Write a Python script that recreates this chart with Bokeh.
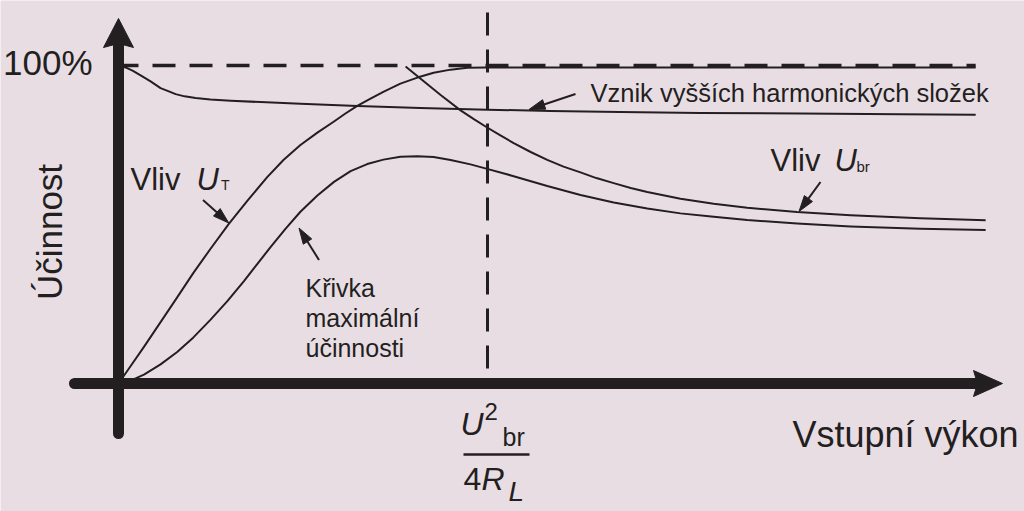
import math
from bokeh.plotting import figure
from bokeh.models import Range1d, Label
from bokeh.embed import file_html
from bokeh.resources import INLINE

# ---------------- data (x: input power relative to U_br^2/(4 R_L), y: efficiency, 1 = 100 %) -------------
harm_x = [0.003, 0.019, 0.038, 0.060, 0.087, 0.114, 0.133, 0.155, 0.179, 0.209, 0.249, 0.304,
          0.385, 0.493, 0.648, 0.818, 1.000, 1.171, 1.360, 1.577, 1.848, 2.119, 2.323]
harm_y = [0.998, 0.994, 0.984, 0.969, 0.950, 0.929, 0.920, 0.910, 0.903, 0.898, 0.893, 0.889,
          0.885, 0.880, 0.873, 0.866, 0.861, 0.857, 0.854, 0.851, 0.849, 0.847, 0.845]

ut_x = [0.000, 0.033, 0.069, 0.114, 0.159, 0.203, 0.249, 0.299, 0.349, 0.403, 0.447, 0.493,
        0.539, 0.584, 0.615, 0.647, 0.683, 0.719, 0.764, 0.810, 0.854, 0.900, 0.945, 0.995,
        1.198, 1.577, 1.984, 2.323]
ut_y = [0.000, 0.055, 0.115, 0.193, 0.271, 0.348, 0.423, 0.502, 0.574, 0.649, 0.703, 0.750,
        0.789, 0.824, 0.849, 0.873, 0.896, 0.918, 0.943, 0.962, 0.977, 0.987, 0.993, 0.994,
        0.994, 0.994, 0.994, 0.994]

max_x = [0.000, 0.033, 0.069, 0.114, 0.159, 0.203, 0.249, 0.295, 0.340, 0.377, 0.412, 0.453,
         0.493, 0.539, 0.584, 0.629, 0.674, 0.718, 0.764, 0.810, 0.854, 0.900, 0.954, 0.999,
         1.071, 1.162, 1.252, 1.342, 1.433, 1.523, 1.613, 1.704, 1.839, 1.984, 2.173, 2.350]
max_y = [0.000, 0.009, 0.028, 0.060, 0.099, 0.145, 0.200, 0.259, 0.322, 0.377, 0.429, 0.487,
         0.540, 0.591, 0.634, 0.668, 0.690, 0.704, 0.713, 0.715, 0.712, 0.703, 0.689, 0.675,
         0.652, 0.621, 0.593, 0.569, 0.550, 0.535, 0.524, 0.514, 0.503, 0.494, 0.487, 0.483]

ubr_x = [0.778, 0.818, 0.873, 0.927, 0.962, 0.999, 1.035, 1.071, 1.117, 1.162, 1.206, 1.252,
         1.295, 1.342, 1.388, 1.433, 1.523, 1.613, 1.704, 1.839, 1.984, 2.173, 2.350]
ubr_y = [0.997, 0.959, 0.907, 0.859, 0.832, 0.805, 0.780, 0.756, 0.728, 0.703, 0.682, 0.664,
         0.646, 0.630, 0.615, 0.602, 0.581, 0.565, 0.553, 0.539, 0.529, 0.520, 0.513]

FULL = 1.0          # 100 % efficiency
P_OPT = 1.0         # U_br^2 / (4 R_L)
X_LINE_END = 2.323  # end of the 100 % dashed line
Y_VLINE_TOP = 1.167 # top of the vertical dashed line

# ---------------- layout --------------------------------------------------------------------------------
BG = "#e9dde4"
INK = "#231f20"
FONT = "Liberation Sans"

W, H = 1024, 511
OFF_X, OFF_Y = 0, 0             # where the canvas lands in the picture
X0_PX, Y0_PX = 118.0, 383.0     # origin in picture pixels
SX, SY = 369.0, 318.0           # pixels per data unit
x_start = (OFF_X - X0_PX) / SX
x_end = (OFF_X + W - X0_PX) / SX
y_end = (Y0_PX - OFF_Y) / SY
y_start = (Y0_PX - OFF_Y - H) / SY
BASE_K = 0.36                   # baseline correction (fraction of font size)


def X(px):
    return (px - X0_PX) / SX


def Y(py):
    return (Y0_PX - py) / SY


p = figure(width=W, height=H, x_range=Range1d(x_start, x_end), y_range=Range1d(y_start, y_end),
           x_axis_type=None, y_axis_type=None, output_backend="svg", toolbar_location=None,
           min_border=0, min_border_left=0, min_border_right=0, min_border_top=0, min_border_bottom=0,
           background_fill_color=BG, border_fill_color=BG, outline_line_color=None)
p.grid.visible = False

# curves
for xs, ys in [(harm_x, harm_y), (ut_x, ut_y), (max_x, max_y), (ubr_x, ubr_y)]:
    p.line(xs, ys, line_color=INK, line_width=2, line_join="round")

# dashed reference lines
p.line([X(122), X_LINE_END], [FULL, FULL], line_color=INK, line_width=3.5,
       line_dash="23 14", line_dash_offset=7)
p.line([P_OPT, P_OPT], [Y_VLINE_TOP, 0.0], line_color=INK, line_width=3,
       line_dash="23 14")


def head(tail, tip, length, half, notch=0.0):
    tx, ty = tip[0] * SX, -tip[1] * SY
    sx, sy = tail[0] * SX, -tail[1] * SY
    dx, dy = tx - sx, ty - sy
    n = math.hypot(dx, dy)
    ux, uy = dx / n, dy / n
    bx, by = tx - ux * length, ty - uy * length
    nx, ny = -uy, ux
    pts = [(tx, ty), (bx + nx * half, by + ny * half), (bx + ux * notch, by + uy * notch),
           (bx - nx * half, by - ny * half)]
    base = ((bx + ux * (notch + 1)) / SX, -(by + uy * (notch + 1)) / SY)
    return [q[0] / SX for q in pts], [-q[1] / SY for q in pts], base


def arrow(tail, tip, lw, length, half, notch=0.0, cap="butt"):
    hx, hy, base = head(tail, tip, length, half, notch)
    p.line([tail[0], base[0]], [tail[1], base[1]], line_color=INK, line_width=lw, line_cap=cap)
    p.patch(hx, hy, fill_color=INK, line_color=INK, line_width=1)


# axes (thick arrows)
arrow((0.0, Y(433)), (0.0, Y(18)), 11, 29, 15, notch=4, cap="round")
arrow((X(74), 0.0), (X(1002), 0.0), 11, 29, 13, notch=4, cap="round")

# annotation arrows
arrow((X(575), Y(93.5)), (X(528.5), Y(109)), 2, 16, 5)
arrow((X(202.5), Y(199.5)), (X(228.3), Y(222.5)), 2, 16, 5)
arrow((X(318.5), Y(259.5)), (X(298.5), Y(227.5)), 2, 16, 5)
arrow((X(820), Y(181.5)), (X(798.5), Y(211)), 2, 16, 5)


def lab(text, px, py, size, align="left", style="normal", angle=0.0):
    if angle:
        px = px - BASE_K * size
    else:
        py = py - BASE_K * size
    p.add_layout(Label(x=X(px), y=Y(py), text=text, text_font=FONT, text_font_size=f"{size}px",
                       text_font_style=style, text_color=INK, text_align=align,
                       text_baseline="alphabetic", angle=angle))


lab("100%", 92, 75, 35, align="right")
lab("Účinnost", 62, 231.5, 35, align="center", angle=math.pi / 2)
lab("Vstupní výkon", 1018, 446.5, 36, align="right")

lab("Vznik vyšších harmonických složek", 590, 101.5, 25.5)

lab("Vliv", 130, 190, 31)
lab("U", 196, 190, 31, style="italic")
lab("T", 220.5, 190, 14)

lab("Vliv", 770, 171.5, 31)
lab("U", 834, 171.5, 31, style="italic")
lab("br", 856, 171.5, 15)

lab("Křivka", 305, 296.5, 25)
lab("maximální", 305, 326.5, 25)
lab("účinnosti", 305, 356.5, 25)

# fraction U^2_br / 4R_L
lab("U", 460, 435, 32, style="italic")
lab("2", 484, 420, 24)
lab("br", 502, 445, 25)
p.line([X(463), X(529)], [Y(454), Y(454)], line_color=INK, line_width=2.5)
lab("4", 463, 490, 32)
lab("R", 481, 490, 32, style="italic")
lab("L", 508, 501, 28, style="italic")

open("out.html", "w").write(file_html(p, INLINE))
